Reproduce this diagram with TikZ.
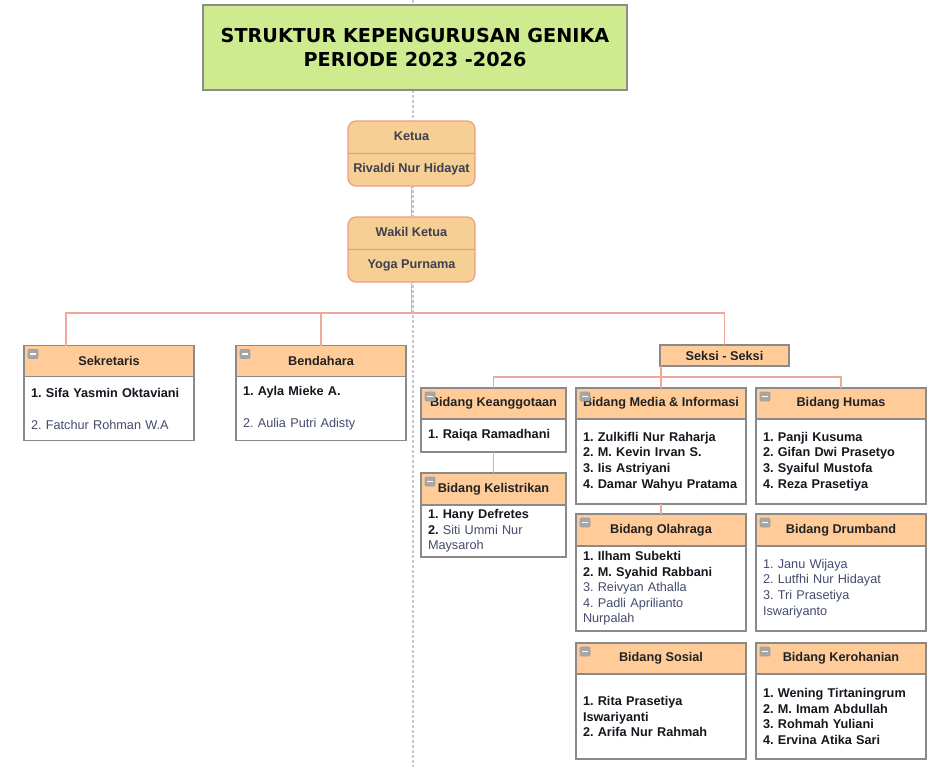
\documentclass[tikz,border=0pt]{standalone}
\usepackage{fontspec}
\setmainfont{Liberation Sans}
\newfontfamily\titlefont{DejaVu Sans}
\usepackage{tikz}
\usetikzlibrary{positioning,shapes.multipart}
\definecolor{titlegreen}{HTML}{CFEB8F}
\definecolor{titleline}{HTML}{8C8C8C}
\definecolor{officefill}{HTML}{F6CF94}
\definecolor{officeline}{HTML}{EE9E82}
\definecolor{officetext}{HTML}{3E3F52}
\definecolor{headfill}{HTML}{FFCC99}
\definecolor{boxline}{HTML}{8A8A8A}
\definecolor{headtext}{HTML}{222222}
\definecolor{darktext}{HTML}{16161E}
\definecolor{greytext}{HTML}{454B6E}
\definecolor{linkcol}{HTML}{EFA898}
\definecolor{guidegray}{HTML}{C8C8C8}
\definecolor{icongray}{HTML}{A6A6A6}
\frenchspacing
\newcommand\bodysize{\fontsize{12.7}{15.6}\selectfont}
\newcommand\softname[1]{{\mdseries\color{greytext}#1}}
\newcommand\foldmark[1]{%
  \filldraw[fill=icongray,draw=boxline!80,line width=0.6pt,rounded corners=1pt] ([shift={(4,4)}]#1.north west) rectangle ++(10,9);
  \draw[white,line width=1.3pt] ([shift={(6,8.5)}]#1.north west) -- ++(6,0);}

\begin{document}
\begin{tikzpicture}[x=1pt,y=-1pt,
  titlebox/.style={draw=titleline,fill=titlegreen,line width=1.3pt,minimum width=424pt,minimum height=85pt,align=center,font=\titlefont\bfseries\fontsize{19.2}{24}\selectfont},
  officer/.style={rectangle split,rectangle split parts=2,draw=officeline,fill=officefill,rounded corners=8pt,line width=1.3pt,minimum width=127pt,inner ysep=7.8pt,align=center,text=officetext,font=\bodysize\bfseries},
  head/.style={draw=boxline,fill=headfill,line width=1.3pt,outer sep=0pt,inner sep=0pt,minimum height=31pt,text=headtext,font=\bodysize\bfseries},
  body/.style={draw=boxline,fill=white,line width=1.3pt,outer sep=0pt,inner xsep=7pt,inner ysep=0pt,anchor=north,align=left,text=darktext,font=\bodysize\bfseries},
  link/.style={draw=linkcol,line width=1.3pt},
  guide/.style={draw=guidegray,line width=1.2pt,dash pattern=on 3pt off 2pt}]
\useasboundingbox (0,0) rectangle (947,767);
\draw[guide] (413,0) -- (413,767);

% title and leaders
\node[titlebox] (title) at (415,47.5) {STRUKTUR KEPENGURUSAN GENIKA\\PERIODE 2023 -2026};
\node[officer] (ketua) at (411.5,153.5) {\strut Ketua\nodepart{two}\strut Rivaldi Nur Hidayat};
\node[officer] (wakil) at (411.5,249.5) {\strut Wakil Ketua\nodepart{two}\strut Yoga Purnama};

% sekretaris, bendahara
\node[head,minimum width=170pt] (sekr) at (109,361) {Sekretaris};
\node[body,text width=156pt,minimum height=64pt] (sekr-b) at (sekr.south) {1. Sifa Yasmin Oktaviani\\[16.4pt]\softname{2. Fatchur Rohman W.A}};
\node[head,minimum width=170pt] (bend) at (321,361) {Bendahara};
\node[body,text width=156pt,minimum height=64pt] (bend-b) at (bend.south) {1. Ayla Mieke A.\\[16.4pt]\softname{2. Aulia Putri Adisty}};

% seksi
\node[head,minimum width=129pt,minimum height=21pt] (seksi) at (724.5,355.5) {Seksi - Seksi};

\node[head,minimum width=145pt] (keang) at (493.5,403.5) {Bidang Keanggotaan};
\node[body,text width=131pt,minimum height=33pt] (keang-b) at (keang.south) {1. Raiqa Ramadhani};
\node[head,minimum width=145pt,minimum height=32pt] (kelis) at (493.5,489) {Bidang Kelistrikan};
\node[body,text width=131pt,minimum height=52pt] (kelis-b) at (kelis.south) {1. Hany Defretes\\2. \softname{Siti Ummi Nur}\\\softname{Maysaroh}};

\node[head,minimum width=170pt] (media) at (661,403.5) {Bidang Media \& Informasi};
\node[body,text width=156pt,minimum height=85pt] (media-b) at (media.south) {1. Zulkifli Nur Raharja\\2. M. Kevin Irvan S.\\3. Iis Astriyani\\4. Damar Wahyu Pratama};
\node[head,minimum width=170pt,minimum height=32pt] (olah) at (661,530) {Bidang Olahraga};
\node[body,text width=156pt,minimum height=85pt] (olah-b) at (olah.south) {1. Ilham Subekti\\2. M. Syahid Rabbani\\\softname{3. Reivyan Athalla}\\\softname{4. Padli Aprilianto}\\\softname{Nurpalah}};
\node[head,minimum width=170pt] (sosial) at (661,658.5) {Bidang Sosial};
\node[body,text width=156pt,minimum height=85pt] (sosial-b) at (sosial.south) {1. Rita Prasetiya\\Iswariyanti\\2. Arifa Nur Rahmah};

\node[head,minimum width=170pt] (humas) at (841,403.5) {Bidang Humas};
\node[body,text width=156pt,minimum height=85pt] (humas-b) at (humas.south) {1. Panji Kusuma\\2. Gifan Dwi Prasetyo\\3. Syaiful Mustofa\\4. Reza Prasetiya};
\node[head,minimum width=170pt,minimum height=32pt] (drum) at (841,530) {Bidang Drumband};
\node[body,text width=156pt,minimum height=85pt] (drum-b) at (drum.south) {\softname{1. Janu Wijaya}\\\softname{2. Lutfhi Nur Hidayat}\\\softname{3. Tri Prasetiya}\\\softname{Iswariyanto}};
\node[head,minimum width=170pt] (keroh) at (841,658.5) {Bidang Kerohanian};
\node[body,text width=156pt,minimum height=85pt] (keroh-b) at (keroh.south) {1. Wening Tirtaningrum\\2. M. Imam Abdullah\\3. Rohmah Yuliani\\4. Ervina Atika Sari};

\foreach \n in {sekr,bend,keang,kelis,media,olah,sosial,humas,drum,keroh}
  \foldmark{\n};

% connectors
\coordinate (bus) at (411.5,313);
\coordinate (sbus) at (661,377);
\draw[link] (ketua) -- (wakil);
\draw[link] (wakil) -- (bus);
\draw[link] ([xshift=-43pt]sekr.north) |- (bus) -| (seksi.north);
\draw[link] (bend.north) -- (bend.north |- bus);
\draw[link] (media.north) -- (media.north |- seksi.south);
\draw[link] (keang.north) |- (sbus) -| (humas.north);
\draw[link] (keang-b) -- (kelis);
\draw[link] (media-b) -- (olah);
\end{tikzpicture}
\end{document}
